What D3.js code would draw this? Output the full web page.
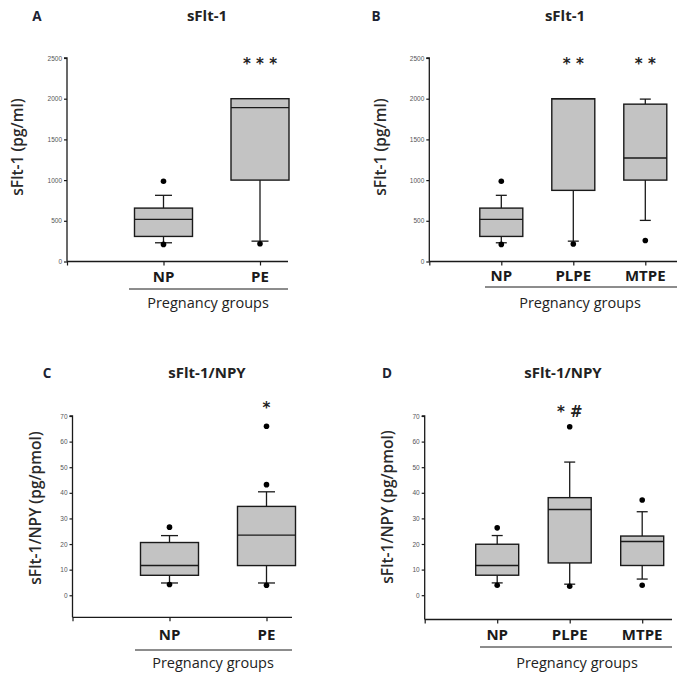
<!DOCTYPE html>
<html><head><meta charset="utf-8">
<script src="https://cdn.jsdelivr.net/npm/d3@7"></script>
<style>body{margin:0;background:#fff}svg{display:block}</style>
</head><body>
<svg id="chart" width="694" height="680"></svg>
<script>
// ---------- DATA ----------
const catsA = ["NP", "PE"];
const statsA = [[230, 308, 517, 656, 813], [250, 1000, 1890, 2000, 2000]]; // [lowWhisker, q1, median, q3, highWhisker]
const outliersA = [[210, 985], [218]];
const sigA = ["", "* * *"];

const catsB = ["NP", "PLPE", "MTPE"];
const statsB = [[230, 308, 517, 656, 813], [250, 874, 2000, 2000, 2000], [505, 1000, 1272, 1933, 1995]];
const outliersB = [[210, 985], [215], [258]];
const sigB = ["", "* *", "* *"];

const catsC = ["NP", "PE"];
const statsC = [[4.8, 7.8, 11.6, 20.6, 23.3], [4.8, 11.6, 23.5, 34.7, 40.4]];
const outliersC = [[4.2, 26.6], [3.9, 43.2, 66]];
const sigC = ["", "*"];

const catsD = ["NP", "PLPE", "MTPE"];
const statsD = [[4.8, 7.8, 11.6, 19.9, 23.3], [4.3, 12.6, 33.5, 38.1, 52], [6.3, 11.6, 21, 23.1, 32.6]];
const outliersD = [[3.9, 26.3], [3.5, 65.8], [3.9, 37.2]];
const sigD = ["", "* #", ""];

const ticksSflt = [0, 500, 1000, 1500, 2000, 2500];
const ticksRatio = [0, 10, 20, 30, 40, 50, 60, 70];

// ---------- LAYOUT ----------
const panels = [
  {letter: "A", title: "sFlt-1", ylab: "sFlt-1 (pg/ml)", cats: catsA, stats: statsA, outs: outliersA, sig: sigA, ticks: ticksSflt,
   ydom: [0, 2500], yr: [261.5, 58], x0: 67, step: 96.5, xend: 288, hw: 29, cap: 8.5,
   letterX: 37, titleX: 207, topY: 21, ylabX: 23, ylabY: 147, catY: 282, ulY: 289, ulX0: 129, grpY: 308, grpX: 208, sigY: 69},
  {letter: "B", title: "sFlt-1", ylab: "sFlt-1 (pg/ml)", cats: catsB, stats: statsB, outs: outliersB, sig: sigB, ticks: ticksSflt,
   ydom: [0, 2500], yr: [261.5, 58], x0: 429.3, step: 72, xend: 677, hw: 21.5, cap: 5.5,
   letterX: 376, titleX: 565, topY: 21, ylabX: 386, ylabY: 147, catY: 281, ulY: 287, ulX0: 485, grpY: 308, grpX: 580, sigY: 69},
  {letter: "C", title: "sFlt-1/NPY", ylab: "sFlt-1/NPY (pg/pmol)", cats: catsC, stats: statsC, outs: outliersC, sig: sigC, ticks: ticksRatio,
   ydom: [-8.6, 70], yr: [617.3, 416], x0: 72.5, step: 97, xend: 292, hw: 29, cap: 8.5,
   letterX: 47, titleX: 207, topY: 378, ylabX: 41, ylabY: 508, catY: 640, ulY: 650, ulX0: 135, grpY: 668, grpX: 213, sigY: 413},
  {letter: "D", title: "sFlt-1/NPY", ylab: "sFlt-1/NPY (pg/pmol)", cats: catsD, stats: statsD, outs: outliersD, sig: sigD, ticks: ticksRatio,
   ydom: [-9.5, 70], yr: [619.5, 416], x0: 424.7, step: 72.5, xend: 672, hw: 21.5, cap: 5.5,
   letterX: 387, titleX: 563, topY: 378, ylabX: 393, ylabY: 507, catY: 640, ulY: 647, ulX0: 480, grpY: 668, grpX: 577, sigY: 417}
];

const svg = d3.select("#chart");
const FONT = "'Open Sans', sans-serif";
const INK = "#1a1a1a";

panels.forEach(p => {
  const g = svg.append("g");
  const n = p.cats.length;
  const y = d3.scaleLinear().domain(p.ydom).range(p.yr);
  const x = d3.scaleLinear().domain([0, 1]).range([p.x0, p.x0 + p.step]);
  const yBottom = p.yr[0];

  // Y axis
  const yAxis = d3.axisLeft(y).tickValues(p.ticks).tickSize(3).tickPadding(2).tickFormat(d3.format("d"));
  const ya = g.append("g").attr("transform", `translate(${p.x0},0)`).call(yAxis);
  ya.select(".domain").attr("d", `M-3,${y(p.ticks[p.ticks.length-1])}H0V${yBottom}`).attr("stroke", INK).attr("stroke-width", 1.3);
  ya.selectAll(".tick line").attr("stroke", INK).attr("stroke-width", 1.2);
  ya.selectAll(".tick text").attr("font-family", "Arial, 'Liberation Sans', sans-serif").attr("font-size", 6.5).attr("fill", "#555");

  // X axis
  const xa = d3.axisBottom(x).tickValues(d3.range(0, n + 1)).tickSize(4).tickFormat("");
  const xg = g.append("g").attr("transform", `translate(0,${yBottom})`).call(xa);
  xg.select(".domain").attr("d", `M${p.x0},0H${p.xend}`).attr("stroke", INK).attr("stroke-width", 1.3);
  xg.selectAll(".tick line").attr("stroke", INK).attr("stroke-width", 1.2);

  // boxes
  p.stats.forEach((s, i) => {
    const cx = x(i + 1);
    const [lo, q1, md, q3, hi] = s;
    const bg = g.append("g");
    bg.append("line").attr("x1", cx).attr("x2", cx).attr("y1", y(q1)).attr("y2", y(lo)).attr("stroke", INK).attr("stroke-width", 1.3);
    bg.append("line").attr("x1", cx - p.cap).attr("x2", cx + p.cap).attr("y1", y(lo)).attr("y2", y(lo)).attr("stroke", INK).attr("stroke-width", 1.3);
    if (hi > q3) {
      bg.append("line").attr("x1", cx).attr("x2", cx).attr("y1", y(q3)).attr("y2", y(hi)).attr("stroke", INK).attr("stroke-width", 1.3);
      bg.append("line").attr("x1", cx - p.cap).attr("x2", cx + p.cap).attr("y1", y(hi)).attr("y2", y(hi)).attr("stroke", INK).attr("stroke-width", 1.3);
    }
    bg.append("rect").attr("x", cx - p.hw).attr("width", p.hw * 2).attr("y", y(q3)).attr("height", y(q1) - y(q3))
      .attr("fill", "#c3c3c3").attr("stroke", INK).attr("stroke-width", 1.4);
    bg.append("line").attr("x1", cx - p.hw).attr("x2", cx + p.hw).attr("y1", y(md)).attr("y2", y(md)).attr("stroke", INK).attr("stroke-width", 1.4);
    p.outs[i].forEach(v => bg.append("circle").attr("cx", cx).attr("cy", y(v)).attr("r", 2.8).attr("fill", "#000"));
    if (p.sig[i]) g.append("text").attr("x", cx).attr("y", p.sigY).attr("text-anchor", "middle")
      .attr("font-family", "'DejaVu Sans', sans-serif").attr("font-weight", 700).attr("font-size", 15).attr("fill", "#222").text(p.sig[i]);
    g.append("text").attr("x", cx).attr("y", p.catY).attr("text-anchor", "middle").attr("font-family", FONT)
      .attr("font-weight", 700).attr("font-size", 15).attr("fill", INK).text(p.cats[i]);
  });

  g.append("line").attr("x1", p.ulX0).attr("x2", p.xend).attr("y1", p.ulY).attr("y2", p.ulY).attr("stroke", INK).attr("stroke-width", 1);
  g.append("text").attr("x", p.grpX).attr("y", p.grpY).attr("text-anchor", "middle").attr("font-family", FONT)
    .attr("font-size", 14.5).attr("fill", "#222").text("Pregnancy groups");

  g.append("text").attr("x", p.titleX).attr("y", p.topY).attr("text-anchor", "middle").attr("font-family", FONT)
    .attr("font-weight", 700).attr("font-size", 15).attr("fill", "#222").text(p.title);
  g.append("text").attr("x", p.letterX).attr("y", p.topY).attr("text-anchor", "middle").attr("font-family", FONT)
    .attr("font-weight", 700).attr("font-size", 13.5).attr("fill", "#1c2333").text(p.letter);

  g.append("text").attr("transform", `translate(${p.ylabX},${p.ylabY}) rotate(-90)`).attr("text-anchor", "middle")
    .attr("font-family", FONT).attr("font-weight", 600).attr("font-size", 15.5).attr("fill", "#2a2a2a").text(p.ylab);
});
</script>
</body></html>
